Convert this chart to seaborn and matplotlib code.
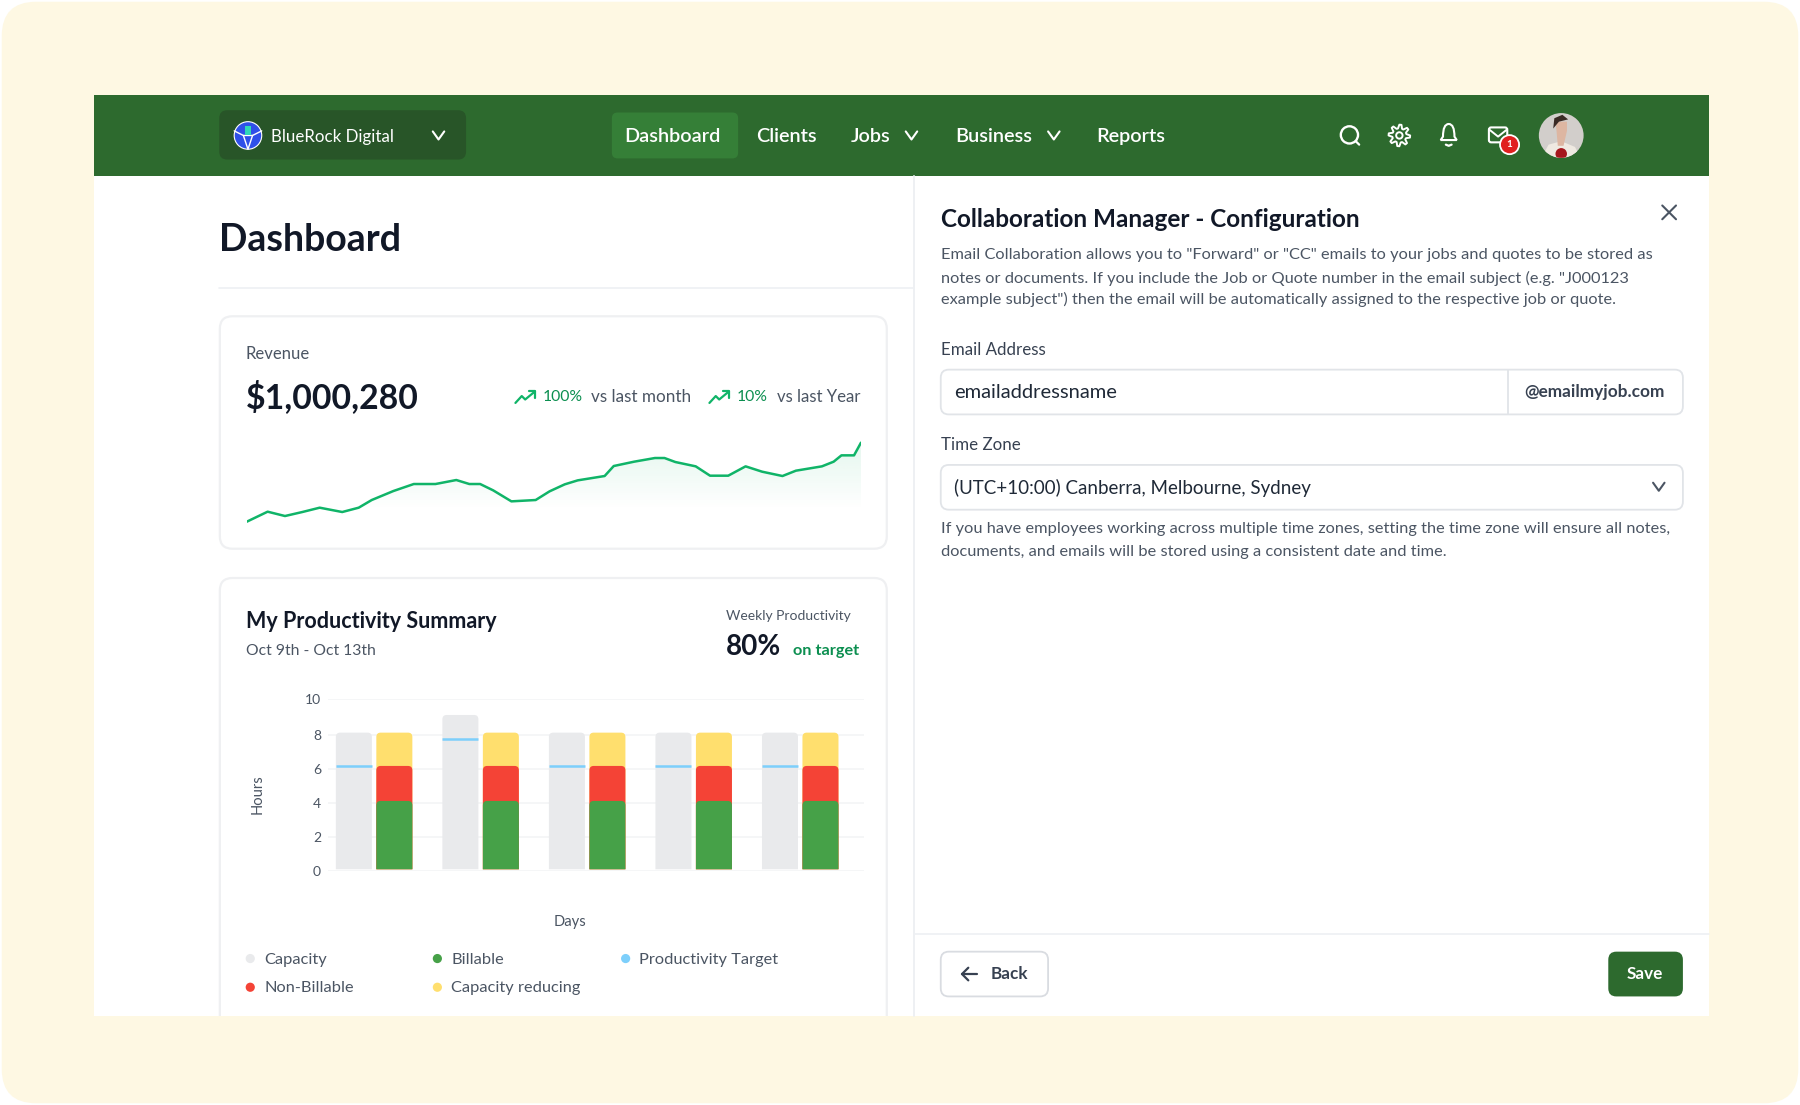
import matplotlib
matplotlib.use('Agg')
import matplotlib.pyplot as plt
import numpy as np
import pandas as pd
import seaborn as sns
from matplotlib.patches import Circle, FancyBboxPatch, PathPatch, Polygon, Rectangle
from matplotlib.path import Path

# Revenue sparkline
rev_day = [0, 48, 88, 128, 168, 220, 258, 288, 338, 385, 435, 483, 513, 538, 568, 610, 666, 698, 733, 763,
           825, 846, 893, 941, 963, 988, 1035, 1068, 1110, 1150, 1188, 1235, 1266, 1326, 1353, 1371, 1400, 1416]
rev_value = [5, 35, 22, 34, 47, 34, 47, 70, 97, 118, 118, 130, 118, 118, 99, 66, 70, 96, 117, 129,
             142, 172, 185, 196, 196, 184, 171, 143, 143, 171, 155, 142, 158, 171, 185, 204, 204, 242]

# Productivity chart
days = ['Oct 9', 'Oct 10', 'Oct 11', 'Oct 12', 'Oct 13']
capacity = [8.14, 9.18, 8.14, 8.14, 8.14]
billable = [4.12, 4.12, 4.12, 4.12, 4.12]
non_billable = [2.06, 2.06, 2.06, 2.06, 2.06]
capacity_reducing = [1.96, 1.96, 1.96, 1.96, 1.96]
target = [6.18, 7.75, 6.18, 6.18, 6.18]
y_ticks = [0, 2, 4, 6, 8, 10.12]
y_tick_labels = ['0', '2', '4', '6', '8', '10']

legend_names = ['Capacity', 'Billable', 'Productivity Target', 'Non-Billable', 'Capacity reducing']
legend_colors = ['#E9EAEC', '#46A148', '#7DCFFB', '#F44336', '#FFDF6E']
legend_x = [218, 381, 545, 218, 381]
legend_y = [835, 835, 835, 860, 860]

nav_items = ['Clients', 'Jobs', 'Business', 'Reports']
nav_x = [685, 758, 866, 985]

W, H = 1568, 1105 * 1568 / 1800
GREEN = '#2D6A2E'
INK = '#111827'
GREY = '#4B5563'
LINE = '#10B468'
UP = '#0C8F50'

sns.set_theme(style='white')
plt.rcParams['font.family'] = ['Lato', 'DejaVu Sans']

fig = plt.figure(figsize=(18, 11.05), dpi=100, facecolor='white')

# whole picture drawn in the coordinates of a 1568 wide canvas
ui = fig.add_axes([0, 0, 1, 1])
ui.set_xlim(0, W)
ui.set_ylim(H, 0)
ui.axis('off')


def rect_for(l, t, r, b):
    return [l / W, 1 - b / H, (r - l) / W, (b - t) / H]


def box(l, t, r, b, rad=0, fc='white', ec='none', lw=1.0, z=1):
    p = FancyBboxPatch((l + rad, t + rad), r - l - 2 * rad, b - t - 2 * rad,
                       boxstyle='round,pad=%f,rounding_size=%f' % (rad, rad),
                       fc=fc, ec=ec, lw=lw, zorder=z)
    ui.add_patch(p)
    return p


def put(x, y, s, size=11.8, color=GREY, weight='normal', ha='left', z=5):
    return ui.text(x, y + 1.5, s, fontsize=size, color=color, fontweight=weight, ha=ha, va='center',
                   zorder=z, parse_math=False)


def stroke(xs, ys, color='white', lw=1.6, z=6):
    ui.plot(xs, ys, color=color, lw=lw, solid_capstyle='round', solid_joinstyle='round', zorder=z)


def chevron(x, y, color='white', w=5, h=3.5):
    stroke([x - w, x, x + w], [y - h, y + h, y - h], color=color, lw=1.5)


def trend(x, y):
    stroke([x - 9, x - 3.5, x - 0.5, x + 8], [y + 5, y - 1, y + 2, y - 5], color=LINE)
    stroke([x + 2.5, x + 8, x + 8], [y - 5, y - 5, y + 0.5], color=LINE)


# backdrop
box(1.5, 1.5, W - 1.5, H - 1.5, rad=30, fc='#FEF8E3', z=0)
window = Rectangle((82, 83), 1407, 802, fc='white', ec='none', zorder=1)
ui.add_patch(window)

# nav bar
ui.add_patch(Rectangle((82, 83), 1407, 70, fc=GREEN, ec='none', zorder=2))
box(191, 96, 406, 139, rad=7, fc='#285528', z=3)
box(533, 98, 643, 138, rad=5, fc='#357F37', z=3)
put(236, 117.5, 'BlueRock Digital', 12.2, 'white')
chevron(382, 118)
put(586, 117, 'Dashboard', 14.3, 'white', 'semibold', ha='center')
for name, x in zip(nav_items, nav_x):
    put(x, 117, name, 14.3, 'white', 'semibold', ha='center')
chevron(794, 118)
chevron(918, 118)

# company logo
ui.add_patch(Circle((216, 118), 12, fc='#2F50E8', ec='white', lw=0.8, zorder=4))
stroke([204, 212, 220, 228], [114, 118, 118, 114], lw=1.0)
stroke([212, 216, 220], [118, 130, 118], lw=1.0)
ui.add_patch(Rectangle((213, 110), 6, 8, fc='#2FD9B8', ec='none', zorder=7))

# nav icons
ui.add_patch(Circle((1175.5, 117.5), 7.5, fc='none', ec='white', lw=1.7, zorder=6))
stroke([1181, 1184], [123, 126])
ang = np.linspace(0, 2 * np.pi, 33)
rad = 7.8 + 1.6 * np.sign(np.sin(8 * ang + 0.4))
ui.add_patch(Polygon(np.c_[1219 + rad * np.cos(ang), 118 + rad * np.sin(ang)], fc='none', ec='white',
                     lw=1.4, joinstyle='round', zorder=6))
ui.add_patch(Circle((1219, 118), 2.8, fc='none', ec='white', lw=1.4, zorder=6))
bell = Path([(1255, 122), (1257, 119), (1257, 108), (1262, 108), (1267, 108), (1267, 119), (1269, 122), (1255, 122)],
            [Path.MOVETO, Path.LINETO, Path.CURVE3, Path.CURVE3, Path.CURVE3, Path.CURVE3, Path.LINETO, Path.CLOSEPOLY])
ui.add_patch(PathPatch(bell, fc='none', ec='white', lw=1.5, zorder=6))
stroke([1259.5, 1262, 1264.5], [126, 127, 126])
box(1297, 111, 1313, 124, rad=2, fc='none', ec='white', lw=1.5, z=6)
stroke([1297.5, 1305, 1312.5], [113, 119, 113], lw=1.4)
ui.add_patch(Circle((1315, 126), 8.3, fc='#E02020', ec='white', lw=1.3, zorder=7))
put(1315, 124.5, '1', 7, 'white', 'bold', ha='center', z=8)

# avatar
av = Circle((1360, 118), 19.5, fc='#D2CECB', ec='none', zorder=6)
ui.add_patch(av)
for shape in [Polygon([(1343, 137), (1349, 126), (1360, 123), (1372, 128), (1377, 138), (1360, 140)], fc='#EFE9E1', ec='none', zorder=7),
              Polygon([(1355, 106), (1365, 106), (1365, 114), (1362, 127), (1357, 127), (1356, 115)], fc='#DDB6A2', ec='none', zorder=8),
              Polygon([(1353, 112), (1354, 103), (1361, 100), (1366, 104), (1358, 106)], fc='#3A2A25', ec='none', zorder=9),
              Circle((1360, 134), 5, fc='#A5161C', ec='none', zorder=9)]:
    ui.add_patch(shape)
    shape.set_clip_path(av)

# split between the two columns
ui.plot([796.5, 796.5], [153, 885], color='#EEF0F3', lw=1.4, zorder=2)
ui.plot([191, 796], [250.5, 250.5], color='#EEF0F3', lw=1.2, zorder=2)
ui.plot([797, 1489], [813.5, 813.5], color='#EEF0F3', lw=1.2, zorder=2)
put(191, 207.5, 'Dashboard', 27, INK, 'bold')

# revenue card
box(191.5, 275.5, 772.5, 478, rad=11, ec='#EFF0F2', lw=1.6, z=2)
put(214, 307, 'Revenue', 12)
put(214, 344, '$1,000,280', 24.3, INK, 'bold')
trend(458, 346)
put(473, 344, '100%', 11.3, UP)
put(515, 344, 'vs last month', 12.3)
trend(627, 346)
put(642, 344, '10%', 11.3, UP)
put(677, 344, 'vs last Year', 12.1)

rev_ax = fig.add_axes(rect_for(215, 383.3, 750, 455.9), facecolor='none')
sns.lineplot(x=rev_day, y=rev_value, color=LINE, linewidth=1.8, errorbar=None, ax=rev_ax, zorder=3)
grad = np.zeros((256, 2, 4))
grad[..., :3] = matplotlib.colors.to_rgb(LINE)
grad[..., 3] = np.linspace(0.11, 0, 256)[:, None]
im = rev_ax.imshow(grad, extent=(0, 1416, 40, 242), origin='upper', aspect='auto', zorder=1)
im.set_clip_path(Polygon(np.c_[rev_day + [1416, 0], rev_value + [0, 0]], transform=rev_ax.transData))
rev_ax.set_xlim(0, 1416)
rev_ax.set_ylim(0, 250)
rev_ax.axis('off')

# productivity card, its bottom is cut by the window
card = box(191.5, 503.5, 772.5, 930, rad=11, ec='#EFF0F2', lw=1.6, z=2)
card.set_clip_path(window)
put(214, 539.5, 'My Productivity Summary', 15.5, INK, 'bold')
put(214, 566, 'Oct 9th - Oct 13th', 11.3)
put(632, 535, 'Weekly Productivity', 10)
put(632, 562.5, '80%', 20, INK, 'bold')
put(691, 565.5, 'on target', 11.7, UP, 'bold')

ax = fig.add_axes(rect_for(285.7, 608.9, 752.3, 758.7), facecolor='none')
sides = ['plan', 'actual']
stack_tops = np.array(billable) + np.array(non_billable) + np.array(capacity_reducing)
layers = [
    ('plan', capacity, '#E9EAEC'),
    ('actual', stack_tops, '#FFDF6E'),
    ('actual', np.array(billable) + np.array(non_billable), '#F44336'),
    ('actual', billable, '#46A148'),
]
capacity_bars = []
for side, tops, color in layers:
    before = len(ax.patches)
    df = pd.DataFrame({'day': days, 'hours': tops, 'side': side})
    sns.barplot(data=df, x='day', y='hours', hue='side', hue_order=sides, order=days, palette={s: color for s in sides},
                width=0.76, gap=0.11, dodge=True, saturation=1, legend=False, errorbar=None, zorder=3, ax=ax)
    bars = ax.patches[before:]
    if side == 'plan':
        capacity_bars = [(b.get_x(), b.get_x() + b.get_width()) for b in bars]

ax.set_xlim(-0.433, 4.595)
ax.set_ylim(0, 10.12)


def round_top(bar, base=0.1):
    # swap the square bar for one with rounded top corners
    x0, x1, top = bar.get_x(), bar.get_x() + bar.get_width(), bar.get_height()
    rx, ry = 0.04, 0.26
    verts = [(x0, base), (x0, top - ry), (x0, top), (x0 + rx, top), (x1 - rx, top), (x1, top), (x1, top - ry), (x1, base), (x0, base)]
    codes = [Path.MOVETO, Path.LINETO, Path.CURVE3, Path.CURVE3, Path.LINETO, Path.CURVE3, Path.CURVE3, Path.LINETO, Path.CLOSEPOLY]
    rounded = PathPatch(Path(verts, codes), fc=bar.get_facecolor(), ec='none', zorder=bar.get_zorder())
    bar.remove()
    ax.add_patch(rounded)


for bar in list(ax.patches):
    round_top(bar)

for (x0, x1), t in zip(capacity_bars, target):
    ax.plot([x0, x1], [t, t], color='#7DCFFB', lw=1.8, solid_capstyle='butt', zorder=4)

ax.set_yticks(y_ticks, y_tick_labels)
ax.set_xticks([])
ax.grid(axis='y', color='#F4F5F6', lw=1.2, zorder=0)
ax.set_axisbelow(True)
sns.despine(ax=ax, left=True, bottom=True)
ax.tick_params(axis='y', length=0, pad=5, labelsize=10, labelcolor=GREY)
ax.set_xlabel('Days', fontsize=10.6, color=GREY, va='center')
ax.xaxis.set_label_coords(0.452, -0.295)
ax.set_ylabel('Hours', fontsize=10.6, color=GREY, va='center')
ax.yaxis.set_label_coords(-0.132, 0.445)

for name, color, x, y in zip(legend_names, legend_colors, legend_x, legend_y):
    ui.add_patch(Circle((x, y), 4, fc=color, ec='none', zorder=5))
    put(x + 12, y - 0.5, name, 11.8)

# configuration panel
put(819.5, 190, 'Collaboration Manager - Configuration', 17.5, INK, 'bold')
stroke([1448, 1460], [179, 191], color=GREY, lw=1.5)
stroke([1448, 1460], [191, 179], color=GREY, lw=1.5)
put(819.5, 221, 'Email Collaboration allows you to "Forward" or "CC" emails to your jobs and quotes to be stored as', 11.8)
put(819.5, 241.5, 'notes or documents. If you include the Job or Quote number in the email subject (e.g. "J000123', 11.8)
put(819.5, 259, 'example subject") then the email will be automatically assigned to the respective job or quote.', 11.8)

put(819.5, 303, 'Email Address', 12.2, '#374151')
box(819.5, 322, 1466, 361, rad=7, ec='#E1E4E8', lw=1.3, z=2)
ui.plot([1314, 1314], [322, 361], color='#E1E4E8', lw=1.3, zorder=3)
put(831, 340.5, 'emailaddressname', 14.5, '#1F2937')
put(1328, 340, '@emailmyjob.com', 12.4, '#374151', 'bold')

put(819.5, 386, 'Time Zone', 12.2, '#374151')
box(819.5, 405, 1466, 444, rad=7, ec='#E1E4E8', lw=1.3, z=2)
put(831, 423.5, '(UTC+10:00) Canberra, Melbourne, Sydney', 13.5, '#1F2937')
chevron(1445, 424, color='#4B5563')
put(819.5, 459, 'If you have employees working across multiple time zones, setting the time zone will ensure all notes,', 11.75)
put(819.5, 479.5, 'documents, and emails will be stored using a consistent date and time.', 11.75)

box(819.5, 829, 913, 868, rad=7, ec='#D9DCE1', lw=1.3, z=2)
stroke([838, 851], [848.5, 848.5], color='#374151')
stroke([843.5, 838, 843.5], [843, 848.5, 854], color='#374151')
put(863, 847, 'Back', 12.3, '#374151', 'bold')
box(1401, 829, 1466, 868, rad=7, fc=GREEN, z=2)
put(1433, 847, 'Save', 12.3, 'white', 'bold', ha='center')

fig.savefig('out.png', dpi=100)
